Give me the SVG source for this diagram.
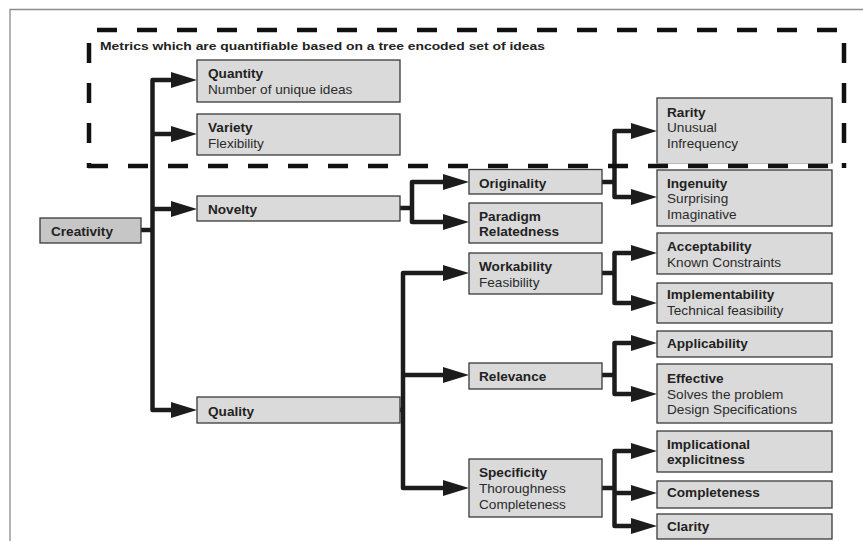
<svg xmlns="http://www.w3.org/2000/svg" width="863" height="541" viewBox="0 0 863 541">
<style>
.box{fill:#dadada;stroke:#3a3a3a;stroke-width:1.3}
.root{fill:#c6c6c6;stroke:#3a3a3a;stroke-width:1.3}
text{font-family:"Liberation Sans",Arial,sans-serif;font-size:13.6px;fill:#2a2a2a}
.b{font-weight:bold;fill:#222}
.c{fill:none;stroke:#1c1c1c;stroke-width:4.5;stroke-linejoin:round;stroke-linecap:butt}
.dash{fill:none;stroke:#111;stroke-width:4.5;stroke-dasharray:20 20}
</style>
<defs>
<marker id="ah" viewBox="0 0 26 16" refX="0" refY="8" markerWidth="26" markerHeight="16" markerUnits="userSpaceOnUse" orient="auto-start-reverse">
<path d="M0,0 L26,8 L0,16 z" fill="#1c1c1c"/>
</marker>
</defs>
<rect width="863" height="541" fill="#fff"/>
<path d="M10,541 V9.5 H863" fill="none" stroke="#8c8c8c" stroke-width="1.3"/>

<g id="connectors">
<path class="c" d="M141,230 H152.5"/>
<path class="c" d="M171,80 H152.5 V410 H171" marker-start="url(#ah)" marker-end="url(#ah)"/>
<path class="c" d="M152.5,134 H171" marker-end="url(#ah)"/>
<path class="c" d="M152.5,209 H171" marker-end="url(#ah)"/>

<path class="c" d="M400,208 H412"/>
<path class="c" d="M443,182 H412 V222 H443" marker-start="url(#ah)" marker-end="url(#ah)"/>

<path class="c" d="M400,410 H403"/>
<path class="c" d="M443,273 H403 V488 H443" marker-start="url(#ah)" marker-end="url(#ah)"/>
<path class="c" d="M403,375 H443" marker-end="url(#ah)"/>

<path class="c" d="M602,182 H614.5"/>
<path class="c" d="M631,131 H614.5 V197 H631" marker-start="url(#ah)" marker-end="url(#ah)"/>

<path class="c" d="M602,273 H614.5"/>
<path class="c" d="M631,253 H614.5 V303 H631" marker-start="url(#ah)" marker-end="url(#ah)"/>

<path class="c" d="M602,375 H614.5"/>
<path class="c" d="M631,343 H614.5 V394 H631" marker-start="url(#ah)" marker-end="url(#ah)"/>

<path class="c" d="M602,488 H614.5"/>
<path class="c" d="M631,451 H614.5 V526 H631" marker-start="url(#ah)" marker-end="url(#ah)"/>
<path class="c" d="M614.5,493 H631" marker-end="url(#ah)"/>
</g>

<g id="creativity"><rect class="root" x="40" y="218" width="101" height="25"/><text class="b" x="51" y="235.5">Creativity</text></g>

<g id="quantity"><rect class="box" x="197" y="60" width="203" height="42"/><text class="b" x="208" y="78">Quantity</text><text x="208" y="94">Number of unique ideas</text></g>
<g id="variety"><rect class="box" x="197" y="114" width="203" height="41"/><text class="b" x="208" y="131.5">Variety</text><text x="208" y="147.5">Flexibility</text></g>
<g id="novelty"><rect class="box" x="197" y="196" width="203" height="25"/><text class="b" x="208" y="214">Novelty</text></g>
<g id="quality"><rect class="box" x="197" y="397" width="203" height="26"/><text class="b" x="208" y="415.5">Quality</text></g>

<g id="originality"><rect class="box" x="469" y="169.5" width="133" height="24.5"/><text class="b" x="479" y="188">Originality</text></g>
<g id="paradigm"><rect class="box" x="469" y="203" width="133" height="40"/><text class="b" x="479" y="221">Paradigm</text><text class="b" x="479" y="236">Relatedness</text></g>
<g id="workability"><rect class="box" x="469" y="253" width="133" height="41"/><text class="b" x="479" y="271">Workability</text><text x="479" y="287">Feasibility</text></g>
<g id="relevance"><rect class="box" x="469" y="363" width="133" height="26"/><text class="b" x="479" y="381">Relevance</text></g>
<g id="specificity"><rect class="box" x="469" y="459" width="133" height="58"/><text class="b" x="479" y="477">Specificity</text><text x="479" y="492.5">Thoroughness</text><text x="479" y="508.5">Completeness</text></g>

<g id="rarity"><rect class="box" x="657" y="98" width="175" height="66"/><text class="b" x="667" y="117">Rarity</text><text x="667" y="132">Unusual</text><text x="667" y="147.5">Infrequency</text></g>
<g id="ingenuity"><rect class="box" x="657" y="170" width="175" height="56"/><text class="b" x="667" y="188">Ingenuity</text><text x="667" y="203">Surprising</text><text x="667" y="219">Imaginative</text></g>
<g id="acceptability"><rect class="box" x="657" y="233" width="175" height="41"/><text class="b" x="667" y="251">Acceptability</text><text x="667" y="266.5">Known Constraints</text></g>
<g id="implementability"><rect class="box" x="657" y="283" width="175" height="40"/><text class="b" x="667" y="299">Implementability</text><text x="667" y="315">Technical feasibility</text></g>
<g id="applicability"><rect class="box" x="657" y="331" width="175" height="26"/><text class="b" x="667" y="348">Applicability</text></g>
<g id="effective"><rect class="box" x="657" y="364" width="175" height="59"/><text class="b" x="667" y="382.5">Effective</text><text x="667" y="399">Solves the problem</text><text x="667" y="414">Design Specifications</text></g>
<g id="implicational"><rect class="box" x="657" y="431" width="175" height="41"/><text class="b" x="667" y="449">Implicational</text><text class="b" x="667" y="464">explicitness</text></g>
<g id="completeness"><rect class="box" x="657" y="481" width="175" height="27"/><text class="b" x="667" y="497">Completeness</text></g>
<g id="clarity"><rect class="box" x="657" y="514" width="175" height="25"/><text class="b" x="667" y="531">Clarity</text></g>

<g id="metrics-group">
<line x1="655" y1="166" x2="836" y2="166" stroke="#fff" stroke-width="5"/>
<line class="dash" x1="97" y1="30" x2="840" y2="30"/>
<line class="dash" x1="844" y1="43" x2="844" y2="168"/>
<line class="dash" x1="89" y1="43" x2="89" y2="168"/>
<line class="dash" x1="88" y1="166" x2="846" y2="166"/>
<text class="b" x="100" y="49.5" style="font-size:11.6px" textLength="445" lengthAdjust="spacingAndGlyphs">Metrics which are quantifiable based on a tree encoded set of ideas</text>
</g>
</svg>
